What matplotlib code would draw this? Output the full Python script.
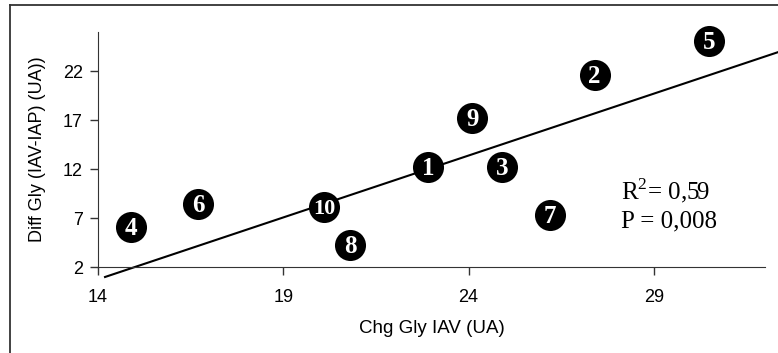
import matplotlib
matplotlib.use('Agg')
import matplotlib.pyplot as plt
from matplotlib.lines import Line2D

plt.rcParams['mathtext.fontset'] = 'custom'
plt.rcParams['mathtext.rm'] = 'Liberation Serif'

# valeurs
sujets = ['1', '2', '3', '4', '5', '6', '7', '8', '9', '10']
chg_gly = [22.9, 27.4, 24.9, 14.9, 30.5, 16.7, 26.2, 20.8, 24.1, 20.1]
diff_gly = [12.2, 21.6, 12.2, 6.1, 25.1, 8.4, 7.3, 4.2, 17.2, 8.1]

# droite de regression
reg_x = [14.19, 32.35]
reg_y = [0.98, 23.94]

xticks = [14, 19, 24, 29]
yticks = [2, 7, 12, 17, 22]

fig = plt.figure(figsize=(7.78, 3.53), dpi=100)
ax = fig.add_axes([98 / 778, 1 - 267 / 353, 667 / 778, 235 / 353])

ax.plot(reg_x, reg_y, color='black', lw=1.5, clip_on=False, zorder=2)
ax.scatter(chg_gly, diff_gly, s=500, color='black', lw=0, zorder=3, clip_on=False)
for s, x, y in zip(sujets, chg_gly, diff_gly):
    ax.text(x, y - 0.15, s, color='white', ha='center', va='center',
            fontsize=16 if len(s) > 1 else 18,
            fontweight='bold', family='Liberation Serif', zorder=4)

ax.set_xlim(14, 32)
ax.set_ylim(2, 26)
ax.set_xticks(xticks)
ax.set_yticks(yticks)
ax.tick_params(labelsize=13, length=6, width=1, color='#333333')
ax.tick_params(axis='x', pad=10)
ax.tick_params(axis='y', pad=5)
for lab in ax.get_xticklabels() + ax.get_yticklabels():
    lab.set_family('Liberation Sans')
ax.spines['top'].set_visible(False)
ax.spines['right'].set_visible(False)
ax.spines['left'].set_color('#333333')
ax.spines['bottom'].set_color('#333333')

ax.set_xlabel('Chg Gly IAV (UA)', fontsize=13.5, family='Liberation Sans', labelpad=10)
ax.set_ylabel('Diff Gly (IAV-IAP) (UA))', fontsize=13, family='Liberation Sans', labelpad=12)

ax.text(0.784, 0.289, 'R$^2$= 0,59', transform=ax.transAxes, fontsize=18,
        family='Liberation Serif', va='baseline')
ax.text(0.784, 0.170, 'P = 0,008', transform=ax.transAxes, fontsize=18,
        family='Liberation Serif', va='baseline')

# cadre exterieur
fig.add_artist(Line2D([10 / 778, 10 / 778], [0, 1 - 5 / 353], color='#333333', lw=1.3))
fig.add_artist(Line2D([10 / 778, 1], [1 - 5 / 353, 1 - 5 / 353], color='#333333', lw=1.3))

plt.savefig('out.png', dpi=100)
